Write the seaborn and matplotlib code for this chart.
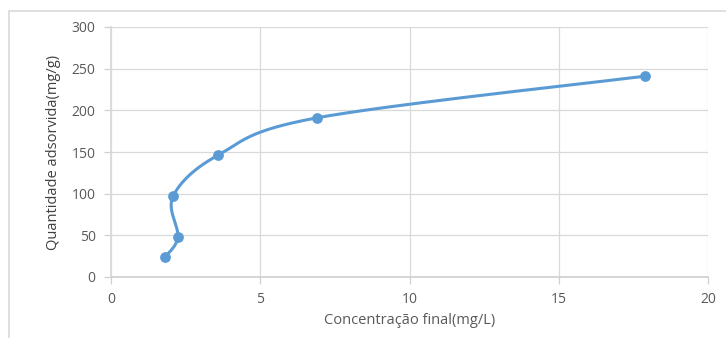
import numpy as np
import pandas as pd
import matplotlib
matplotlib.use("Agg")
import matplotlib.pyplot as plt
import seaborn as sns
from matplotlib.patches import Rectangle

conc_final = [1.81, 2.24, 2.08, 3.58, 6.90, 17.89]
qty_adsorbed = [24, 48, 97, 146, 191, 241]
x_ticks = [0, 5, 10, 15, 20]
y_ticks = [0, 50, 100, 150, 200, 250, 300]
x_label = "Concentração final(mg/L)"
y_label = "Quantidade adsorvida(mg/g)"

sns.set_theme(style="white")
plt.rcParams['font.family'] = ['Open Sans', 'DejaVu Sans']

W, H = 726, 338
fig = plt.figure(figsize=(W / 100, H / 100), dpi=100)
ax = fig.add_axes([111 / W, (H - 277) / H, (708 - 111) / W, (277 - 27) / H])
ax.set_xlim(0, 20)
ax.set_ylim(0, 300)

# Excel-like smoothed curve (Catmull-Rom in screen space)
sx = (708 - 111) / 20.0
sy = (277 - 27) / 300.0
P = np.column_stack([np.array(conc_final) * sx, np.array(qty_adsorbed) * sy])
curve = []
t = np.linspace(0, 1, 80)
n = len(P)
for i in range(n - 1):
    p1, p2 = P[i], P[i + 1]
    p0 = P[i - 1] if i > 0 else p1
    p3 = P[i + 2] if i + 2 < n else p2
    c1 = p1 + (p2 - p0) / 6.0
    c2 = p2 - (p3 - p1) / 6.0
    for tt in t:
        b = ((1 - tt) ** 3) * p1 + 3 * ((1 - tt) ** 2) * tt * c1 + 3 * (1 - tt) * tt ** 2 * c2 + tt ** 3 * p2
        curve.append(b)
curve = np.array(curve)
df_curve = pd.DataFrame({"x": curve[:, 0] / sx, "y": curve[:, 1] / sy})
df_pts = pd.DataFrame({"x": conc_final, "y": qty_adsorbed})

blue = "#5b9bd5"
sns.lineplot(data=df_curve, x="x", y="y", sort=False, color=blue, linewidth=2.2, ax=ax, zorder=3)
sns.scatterplot(data=df_pts, x="x", y="y", color=blue, s=60, edgecolor=blue, linewidth=0, ax=ax, zorder=4)

ax.set_xticks(x_ticks)
ax.set_yticks(y_ticks)
ax.grid(True, color="#d9d9d9", linewidth=0.9)
ax.set_axisbelow(True)
for side in ["top", "right"]:
    ax.spines[side].set_visible(False)
ax.spines["left"].set_color("#d9d9d9")
ax.spines["bottom"].set_color("#d0d0d0")
ax.tick_params(axis="both", which="major", length=5, width=0.9, color="#d0d0d0",
               labelsize=10, labelcolor="#595959", pad=6, left=True, bottom=True)
ax.set_xlabel(x_label, fontsize=10.5, color="#595959", labelpad=4)
ax.set_ylabel(y_label, fontsize=10.5, color="#404040", labelpad=8)

# chart outer border
fig.patches.append(Rectangle((9 / W, -0.1), 1.0, (H - 11) / H + 0.1, transform=fig.transFigure,
                             fill=False, edgecolor="#d9d9d9", linewidth=1.2))

fig.savefig("out.png", dpi=100)
